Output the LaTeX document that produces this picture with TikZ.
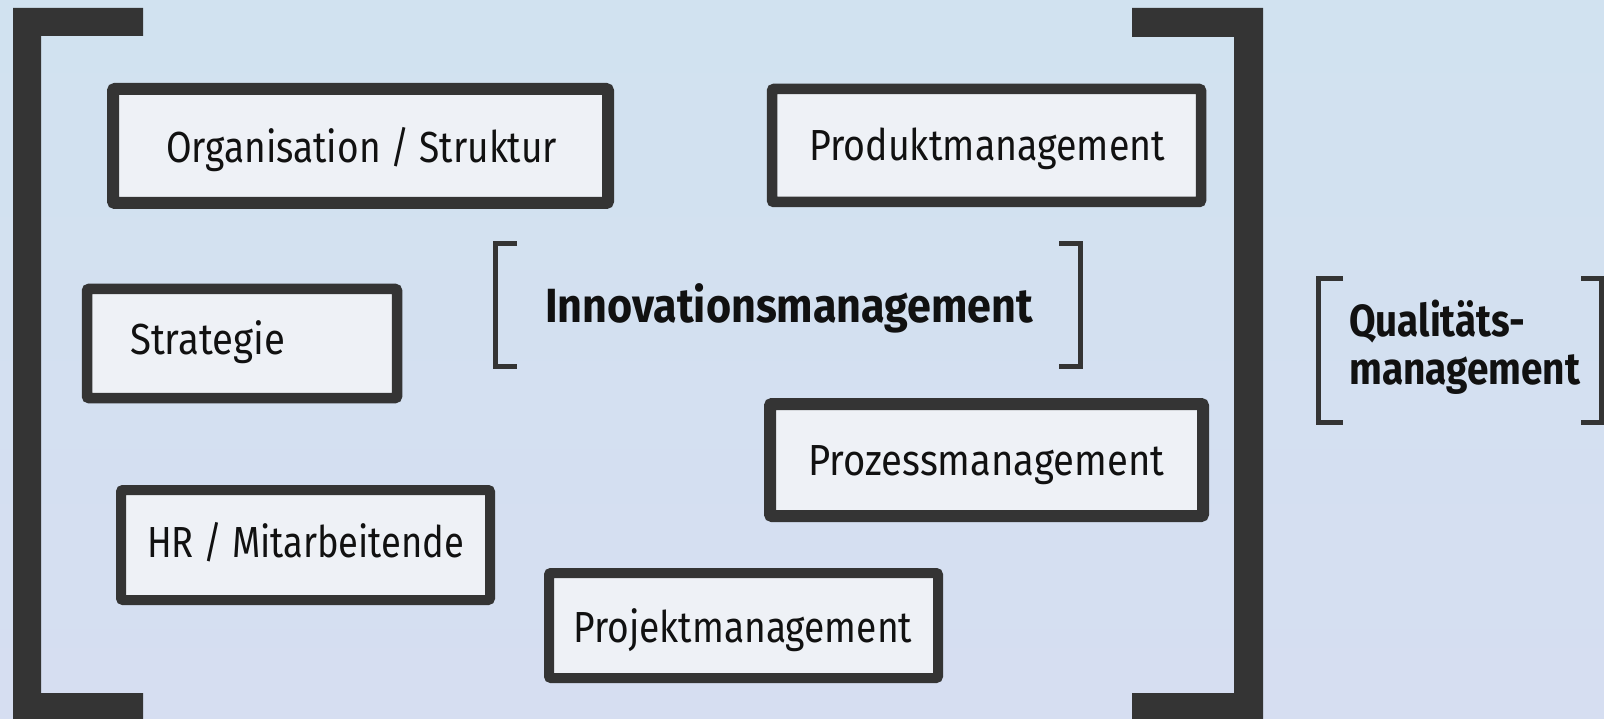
\documentclass[tikz,border=0pt]{standalone}
\usepackage{fontspec}
\setmainfont{Fira Sans}
\usepackage{graphicx}
\definecolor{bgtop}{RGB}{209,226,240}
\definecolor{bgbot}{RGB}{214,222,241}
\definecolor{dark}{RGB}{52,52,52}
\definecolor{boxfill}{RGB}{238,241,246}
\definecolor{ink}{RGB}{17,17,17}
\newcommand\fitw[2]{\setbox0=\hbox{#2}\pgfmathsetmacro\fitr{#1/\the\wd0}\scalebox{\fitr}[1]{\box0}}
\tikzset{
  boxnode/.style={draw=dark, fill=boxfill, rectangle, rounded corners=2pt, inner sep=0pt},
  lbl/.style={inner sep=0pt, anchor=base west, text=ink, font=\fontsize{43.5}{50}\selectfont},
  blbl/.style={inner sep=0pt, anchor=base west, text=ink, font=\fontsize{48}{54}\selectfont\bfseries},
  qlbl/.style={inner sep=0pt, anchor=base west, text=ink, font=\fontsize{45}{50}\selectfont\bfseries},
  thinbracket/.style={draw=dark, line width=5pt, line join=miter, line cap=butt}
}
\begin{document}
\begin{tikzpicture}[x=1pt,y=-1pt]
\useasboundingbox (0,0) rectangle (1604,719);
\shade[top color=bgtop, bottom color=bgbot] (0,0) rectangle (1604,719);
% big brackets
\fill[dark] (13,8) -- (143,8) -- (143,36) -- (41,36) -- (41,693) -- (143,693) -- (143,721) -- (13,721) -- cycle;
\fill[dark] (1263,8) -- (1132,8) -- (1132,37) -- (1234,37) -- (1234,693) -- (1132,693) -- (1132,721) -- (1263,721) -- cycle;
% boxes
\node[boxnode, line width=12pt, minimum width=495pt, minimum height=114pt] (org) at (360.5,146) {};
\node[boxnode, line width=10.5pt, minimum width=429pt, minimum height=113pt] (prod) at (986.5,145.5) {};
\node[boxnode, line width=10.5pt, minimum width=310pt, minimum height=109pt] (strat) at (242,343.5) {};
\node[boxnode, line width=12pt, minimum width=433pt, minimum height=112pt] (proz) at (986.5,460) {};
\node[boxnode, line width=10pt, minimum width=369pt, minimum height=110pt] (hr) at (305.5,545) {};
\node[boxnode, line width=10pt, minimum width=389pt, minimum height=105pt] (proj) at (743.5,625.5) {};
% labels
\node[lbl] (orgT) at (166,162.3) {\fitw{391}{Organisation / Struktur}};
\node[lbl] (prodT) at (809,160.7) {\fitw{356}{Produktmanagement}};
\node[lbl] (stratT) at (130,355) {\fitw{155}{Strategie}};
\node[lbl] (prozT) at (808,475.5) {\fitw{356}{Prozessmanagement}};
\node[lbl] (hrT) at (147,557) {\fitw{317}{HR / Mitarbeitende}};
\node[lbl] (projT) at (573,642) {\fitw{339}{Projektmanagement}};
% Innovationsmanagement
\node[blbl] (innoT) at (545,323) {\fitw{488}{Innovationsmanagement}};
\coordinate (ia1) at (517,243.5); \coordinate (ia2) at (495.5,243.5);
\coordinate (ia3) at (495.5,366.5); \coordinate (ia4) at (517,366.5);
\draw[thinbracket] (ia1) -- (ia2) -- (ia3) -- (ia4);
\coordinate (ib1) at (1059,243.5); \coordinate (ib2) at (1080.5,243.5);
\coordinate (ib3) at (1080.5,366.5); \coordinate (ib4) at (1059,366.5);
\draw[thinbracket] (ib1) -- (ib2) -- (ib3) -- (ib4);
% Qualitaetsmanagement
\node[qlbl] (q1) at (1349,336.7) {\fitw{176}{Qualitäts-}};
\node[qlbl] (q2) at (1349,384) {\fitw{231}{management}};
\coordinate (qa1) at (1343,278.5); \coordinate (qa2) at (1318.5,278.5);
\coordinate (qa3) at (1318.5,422.5); \coordinate (qa4) at (1343,422.5);
\draw[thinbracket] (qa1) -- (qa2) -- (qa3) -- (qa4);
\coordinate (qb1) at (1581,278.5); \coordinate (qb2) at (1601,278.5);
\coordinate (qb3) at (1601,422.5); \coordinate (qb4) at (1581,422.5);
\draw[thinbracket] (qb1) -- (qb2) -- (qb3) -- (qb4);
\end{tikzpicture}
\end{document}
